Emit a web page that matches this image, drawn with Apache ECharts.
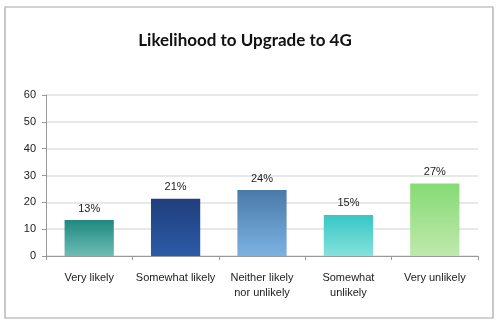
<!DOCTYPE html>
<html>
<head>
<meta charset="utf-8">
<script src="https://cdn.jsdelivr.net/npm/echarts@6/dist/echarts.min.js"></script>
<style>html,body{margin:0;padding:0;background:#fff}#c{width:500px;height:323px}</style>
</head>
<body>
<div id="c"></div>
<script>
var categories = ['Very likely', 'Somewhat likely', 'Neither likely\nnor unlikely', 'Somewhat\nunlikely', 'Very unlikely'];
var values = [13.4, 21.3, 24.6, 15.3, 27.0];
var valueLabels = ['13%', '21%', '24%', '15%', '27%'];
var yTicks = [0, 10, 20, 30, 40, 50, 60];
var topColors = ['#1f8a80', '#1f3f7c', '#4a7aa8', '#38c6c6', '#86da74'];
var bottomColors = ['#6cbdb5', '#2b5ba8', '#7cb2e2', '#84e2dc', '#bfe9ad'];

var chart = echarts.init(document.getElementById('c'), null, {renderer: 'canvas'});
chart.setOption({
  animation: false,
  backgroundColor: '#fff',
  graphic: [{
    type: 'rect', shape: {x: 5, y: 7, width: 488, height: 311},
    style: {fill: 'none', stroke: '#a6a6a6', lineWidth: 1.2}, silent: true
  }],
  title: {
    text: 'Likelihood to Upgrade to 4G',
    left: 240, top: 27, textAlign: 'center',
    textStyle: {fontFamily: 'Lato', fontWeight: 'bold', fontSize: 17, color: '#111'}
  },
  grid: {left: 46, right: 22, top: 95, bottom: 67, containLabel: false},
  xAxis: {
    type: 'category', data: categories,
    axisLine: {lineStyle: {color: '#999', width: 1}},
    axisTick: {show: true, length: 4, lineStyle: {color: '#999'}},
    axisLabel: {fontFamily: 'Liberation Sans', fontSize: 11, color: '#222', margin: 14, lineHeight: 15, interval: 0}
  },
  yAxis: {
    type: 'value', min: yTicks[0], max: yTicks[yTicks.length - 1], interval: 10,
    axisLine: {show: true, lineStyle: {color: '#999', width: 1}},
    axisTick: {show: true, length: 4, lineStyle: {color: '#999'}},
    splitLine: {lineStyle: {color: '#e0e0e0', width: 1.5}},
    axisLabel: {fontFamily: 'Liberation Sans', fontSize: 11, color: '#222', margin: 10}
  },
  series: [{
    type: 'bar', barWidth: '57%',
    data: values.map(function (v, i) {
      return {
        value: v,
        itemStyle: {
          color: new echarts.graphic.LinearGradient(0, 0, 0, 1, [
            {offset: 0, color: topColors[i]}, {offset: 1, color: bottomColors[i]}
          ])
        },
        label: {formatter: valueLabels[i]}
      };
    }),
    label: {show: true, position: 'top', distance: 6, fontFamily: 'Liberation Sans', fontSize: 11, color: '#222'}
  }]
});
</script>
</body>
</html>
